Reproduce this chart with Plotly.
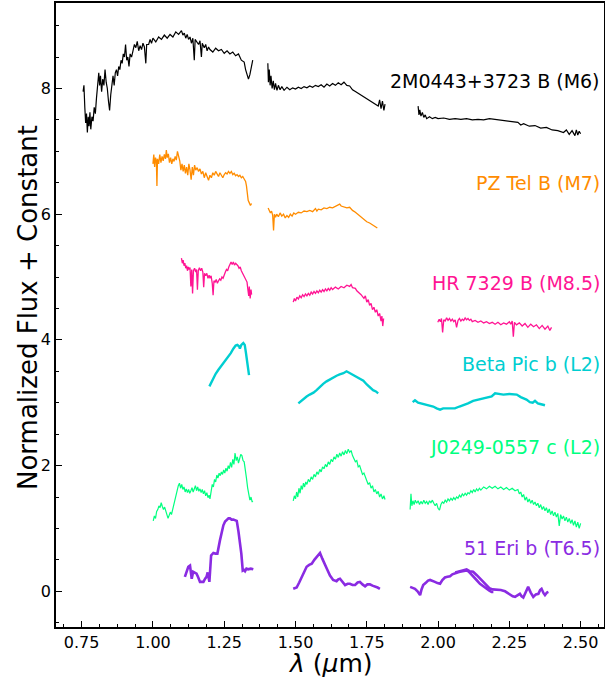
import plotly.graph_objects as go

# ---------------- data (wavelength in micron, normalized flux + offset) ----------------
# 2M0443+3723 B (M6)
m6_a_wl = [0.755,0.758,0.761,0.764,0.767,0.770,0.773,0.776,0.779,0.782,0.786,0.790,0.794,0.798,0.802,0.806,0.810,0.813,0.816,0.820,0.824,0.828,0.832,0.836,0.840,0.844,0.848,0.852,0.856,0.860,0.864,0.868,0.872,0.876,0.880,0.884,0.888,0.892,0.896,0.900,0.904,0.908,0.912,0.916,0.920,0.925,0.930,0.935,0.940,0.945,0.950,0.955,0.960,0.965,0.970,0.975,0.978,0.985,0.990,0.995,1.000,1.010,1.020,1.030,1.040,1.050,1.060,1.070,1.080,1.090,1.100,1.105,1.110,1.115,1.120,1.125,1.130,1.135,1.140,1.145,1.148,1.155,1.160,1.165,1.170,1.173,1.180,1.185,1.190,1.195,1.200,1.210,1.220,1.230,1.240,1.250,1.260,1.270,1.280,1.290,1.300,1.310,1.320,1.325,1.330,1.335,1.340,1.345,1.350]
m6_a_fx = [7.95,8.05,7.70,7.45,7.60,7.30,7.55,7.40,7.62,7.35,7.55,7.48,7.70,7.60,7.85,8.10,8.25,8.05,8.20,7.95,8.15,8.05,8.30,8.10,8.00,7.80,7.65,7.90,8.10,8.20,8.05,8.25,8.30,8.20,8.35,8.30,8.45,8.40,8.55,8.50,8.70,8.45,8.50,8.35,8.55,8.50,8.60,8.70,8.65,8.75,8.60,8.68,8.62,8.72,8.66,8.40,8.70,8.70,8.78,8.72,8.80,8.74,8.82,8.78,8.85,8.80,8.86,8.82,8.90,8.86,8.92,8.85,8.88,8.80,8.86,8.78,8.82,8.72,8.80,8.45,8.78,8.74,8.70,8.76,8.50,8.72,8.65,8.70,8.60,8.66,8.62,8.58,8.64,8.60,8.62,8.56,8.60,8.55,8.58,8.52,8.55,8.45,8.42,8.30,8.22,8.15,8.22,8.35,8.45]
m6_b_wl = [1.403,1.405,1.408,1.411,1.414,1.418,1.422,1.426,1.430,1.435,1.440,1.446,1.452,1.460,1.470,1.480,1.490,1.500,1.510,1.520,1.530,1.540,1.550,1.560,1.570,1.580,1.590,1.600,1.610,1.620,1.630,1.640,1.650,1.660,1.670,1.680,1.690,1.700,1.710,1.720,1.730,1.740,1.750,1.760,1.770,1.780,1.790,1.795,1.800,1.805,1.810,1.814]
m6_b_fx = [8.40,8.10,8.30,8.05,8.20,8.00,8.12,7.98,8.08,7.97,8.05,7.98,8.03,7.97,8.02,7.98,8.01,7.99,8.02,8.00,8.03,8.01,8.04,8.02,8.05,8.03,8.06,8.02,8.07,8.04,8.08,8.05,8.09,8.06,8.10,8.05,8.04,7.98,7.95,7.92,7.90,7.86,7.84,7.80,7.78,7.75,7.72,7.82,7.68,7.80,7.65,7.75]
m6_c_wl = [1.930,1.933,1.936,1.940,1.945,1.950,1.955,1.960,1.970,1.980,1.990,2.000,2.020,2.040,2.060,2.080,2.100,2.120,2.140,2.160,2.180,2.200,2.220,2.240,2.260,2.280,2.290,2.300,2.320,2.340,2.360,2.380,2.400,2.420,2.440,2.450,2.460,2.470,2.480,2.485,2.490,2.495,2.500]
m6_c_fx = [7.72,7.58,7.66,7.56,7.62,7.54,7.58,7.52,7.55,7.52,7.54,7.52,7.53,7.51,7.52,7.51,7.52,7.50,7.51,7.50,7.52,7.51,7.50,7.48,7.47,7.46,7.42,7.44,7.40,7.41,7.37,7.38,7.34,7.33,7.30,7.34,7.27,7.33,7.25,7.34,7.26,7.32,7.28]

# PZ Tel B (M7)
pz_a_wl = [1.000,1.003,1.006,1.009,1.012,1.014,1.016,1.020,1.024,1.028,1.032,1.036,1.040,1.044,1.047,1.050,1.054,1.058,1.062,1.066,1.070,1.074,1.078,1.082,1.086,1.090,1.094,1.098,1.102,1.106,1.110,1.114,1.118,1.122,1.126,1.130,1.134,1.138,1.142,1.146,1.150,1.155,1.160,1.165,1.170,1.175,1.180,1.185,1.190,1.195,1.200,1.205,1.210,1.215,1.220,1.225,1.230,1.235,1.240,1.245,1.250,1.255,1.260,1.265,1.270,1.275,1.280,1.285,1.290,1.295,1.300,1.305,1.310,1.315,1.320,1.325,1.328,1.331,1.334,1.338,1.342,1.346]
pz_a_fx = [6.80,6.95,6.75,6.90,6.85,6.45,6.88,6.80,6.95,6.82,6.92,6.85,6.95,6.88,7.02,6.90,6.96,6.82,6.90,6.80,6.88,6.84,6.92,6.86,7.00,6.92,6.85,6.70,6.80,6.68,6.78,6.65,6.75,6.62,6.80,6.70,6.55,6.75,6.62,6.78,6.70,6.74,6.68,6.72,6.64,6.68,6.58,6.66,6.60,6.54,6.62,6.58,6.66,6.62,6.68,6.64,6.60,6.66,6.62,6.58,6.63,6.66,6.64,6.68,6.65,6.68,6.63,6.65,6.61,6.63,6.60,6.62,6.58,6.60,6.56,6.52,6.45,6.32,6.22,6.18,6.14,6.17]
pz_b_wl = [1.404,1.408,1.412,1.416,1.420,1.423,1.426,1.430,1.434,1.440,1.446,1.452,1.458,1.464,1.470,1.476,1.482,1.488,1.494,1.500,1.510,1.520,1.530,1.540,1.550,1.560,1.570,1.575,1.580,1.590,1.600,1.610,1.620,1.630,1.640,1.650,1.655,1.660,1.670,1.680,1.690,1.700,1.710,1.720,1.730,1.740,1.750,1.760,1.770,1.780,1.787]
pz_b_fx = [6.10,6.07,6.02,6.05,5.98,5.74,6.00,5.95,6.00,5.96,6.02,5.97,6.00,5.94,5.98,5.95,6.00,5.97,6.02,6.00,6.03,6.02,6.05,6.04,6.06,6.04,6.09,6.05,6.08,6.07,6.10,6.09,6.11,6.10,6.12,6.14,6.16,6.13,6.12,6.10,6.11,6.06,6.03,5.99,5.95,5.92,5.88,5.86,5.83,5.80,5.78]

# HR 7329 B (M8.5)
hr_a_wl = [1.100,1.103,1.106,1.109,1.112,1.115,1.118,1.121,1.124,1.127,1.130,1.133,1.136,1.139,1.142,1.146,1.150,1.153,1.156,1.159,1.163,1.167,1.171,1.175,1.178,1.181,1.185,1.189,1.193,1.197,1.200,1.204,1.208,1.211,1.214,1.218,1.222,1.226,1.230,1.234,1.238,1.242,1.246,1.250,1.254,1.258,1.262,1.266,1.270,1.274,1.278,1.282,1.286,1.290,1.294,1.298,1.302,1.306,1.310,1.314,1.318,1.322,1.326,1.330,1.333,1.336,1.338,1.341,1.344,1.346]
hr_a_fx = [5.30,5.22,5.27,5.18,5.22,5.14,5.18,5.10,5.16,5.12,5.15,4.85,5.12,4.74,5.10,5.14,5.08,5.12,4.80,5.10,5.15,5.10,5.14,5.08,4.84,5.06,5.02,5.06,4.98,5.03,4.98,5.02,4.90,4.71,4.94,4.92,4.96,4.90,4.94,4.97,4.95,5.00,4.98,5.05,5.08,5.12,5.10,5.16,5.20,5.24,5.20,5.24,5.19,5.22,5.20,5.18,5.14,5.16,5.10,5.06,5.02,5.00,4.96,4.92,4.80,4.70,4.85,4.66,4.80,4.72]
hr_b_wl = [1.492,1.496,1.500,1.505,1.510,1.515,1.520,1.525,1.530,1.535,1.540,1.545,1.550,1.555,1.560,1.565,1.570,1.575,1.580,1.585,1.590,1.595,1.600,1.605,1.610,1.615,1.620,1.625,1.630,1.640,1.650,1.660,1.670,1.680,1.690,1.695,1.700,1.710,1.715,1.720,1.730,1.740,1.745,1.750,1.755,1.760,1.765,1.770,1.775,1.780,1.785,1.790,1.795,1.800,1.803,1.806,1.809]
hr_b_fx = [4.60,4.66,4.62,4.68,4.65,4.70,4.67,4.72,4.69,4.73,4.70,4.74,4.71,4.76,4.73,4.77,4.74,4.78,4.75,4.79,4.76,4.80,4.77,4.81,4.78,4.82,4.79,4.83,4.80,4.84,4.81,4.85,4.83,4.87,4.85,4.88,4.83,4.82,4.78,4.76,4.72,4.66,4.70,4.60,4.64,4.55,4.58,4.48,4.52,4.44,4.48,4.38,4.42,4.30,4.38,4.22,4.34]
hr_c_wl = [1.999,2.004,2.008,2.012,2.016,2.020,2.025,2.030,2.035,2.040,2.045,2.050,2.055,2.060,2.065,2.070,2.075,2.080,2.085,2.090,2.095,2.100,2.105,2.110,2.115,2.120,2.130,2.140,2.150,2.160,2.170,2.180,2.190,2.200,2.210,2.220,2.230,2.240,2.250,2.255,2.260,2.264,2.268,2.275,2.285,2.295,2.305,2.315,2.325,2.335,2.345,2.355,2.365,2.375,2.385,2.392,2.398]
hr_c_fx = [4.28,4.33,4.29,4.34,4.12,4.32,4.30,4.35,4.31,4.34,4.30,4.33,4.29,4.32,4.20,4.31,4.34,4.30,4.33,4.31,4.35,4.32,4.34,4.31,4.33,4.29,4.31,4.28,4.30,4.27,4.29,4.26,4.28,4.25,4.28,4.24,4.27,4.25,4.29,4.25,4.30,4.05,4.28,4.24,4.27,4.22,4.26,4.20,4.25,4.21,4.24,4.18,4.23,4.17,4.22,4.15,4.20]

# Beta Pic b (L2)
bp_a_wl = [1.198,1.205,1.212,1.220,1.229,1.237,1.247,1.255,1.264,1.273,1.282,1.290,1.296,1.302,1.305,1.310,1.317,1.322,1.326,1.330,1.334,1.337]
bp_a_fx = [3.26,3.33,3.39,3.46,3.52,3.57,3.62,3.67,3.73,3.79,3.86,3.91,3.92,3.90,3.86,3.92,3.95,3.92,3.80,3.65,3.52,3.44]
bp_b_wl = [1.510,1.520,1.530,1.539,1.550,1.563,1.574,1.585,1.597,1.609,1.620,1.632,1.644,1.655,1.668,1.679,1.690,1.700,1.715,1.727,1.738,1.750,1.761,1.772,1.782,1.790]
bp_b_fx = [2.99,3.03,3.07,3.10,3.13,3.16,3.20,3.25,3.30,3.34,3.37,3.40,3.43,3.45,3.47,3.50,3.47,3.45,3.41,3.38,3.35,3.29,3.24,3.20,3.18,3.15]
bp_c_wl = [1.911,1.919,1.930,1.948,1.965,1.983,1.995,2.007,2.018,2.030,2.045,2.059,2.075,2.088,2.105,2.123,2.140,2.159,2.175,2.188,2.200,2.215,2.229,2.250,2.276,2.290,2.299,2.310,2.322,2.332,2.340,2.350,2.358,2.368,2.375]
bp_c_fx = [3.01,3.04,3.00,2.98,2.96,2.94,2.91,2.89,2.91,2.91,2.90,2.91,2.94,2.96,2.99,3.03,3.05,3.07,3.09,3.10,3.15,3.14,3.13,3.14,3.13,3.09,3.07,3.05,3.01,3.00,3.03,2.99,2.98,2.97,2.96]

# J0249-0557 c (L2)
jc_a_wl = [1.001,1.005,1.009,1.013,1.017,1.021,1.025,1.029,1.033,1.037,1.041,1.045,1.049,1.053,1.057,1.061,1.065,1.069,1.073,1.077,1.081,1.085,1.089,1.093,1.097,1.101,1.105,1.109,1.113,1.117,1.121,1.125,1.129,1.133,1.137,1.141,1.145,1.149,1.153,1.157,1.161,1.165,1.169,1.173,1.177,1.181,1.185,1.189,1.193,1.197,1.200,1.204,1.208,1.212,1.216,1.220,1.224,1.228,1.232,1.236,1.240,1.244,1.248,1.252,1.256,1.260,1.264,1.268,1.272,1.276,1.280,1.284,1.288,1.292,1.296,1.300,1.304,1.308,1.312,1.316,1.320,1.324,1.328,1.332,1.336,1.340,1.344,1.348,1.350]
jc_a_fx = [1.12,1.20,1.16,1.27,1.30,1.36,1.33,1.41,1.35,1.30,1.34,1.25,1.22,1.16,1.20,1.26,1.22,1.30,1.35,1.45,1.52,1.60,1.68,1.72,1.64,1.70,1.62,1.66,1.58,1.63,1.57,1.62,1.56,1.60,1.65,1.58,1.63,1.68,1.60,1.66,1.59,1.63,1.57,1.62,1.55,1.60,1.52,1.57,1.49,1.53,1.47,1.62,1.70,1.66,1.78,1.74,1.85,1.80,1.88,1.84,1.90,1.86,1.93,1.88,1.96,1.91,2.00,1.95,2.05,1.97,2.10,2.02,2.20,2.08,2.14,2.04,2.12,2.18,2.16,2.08,2.06,1.95,1.80,1.65,1.55,1.45,1.50,1.42,1.44]
jc_b_wl = [1.492,1.496,1.500,1.504,1.508,1.512,1.516,1.520,1.524,1.528,1.532,1.536,1.540,1.545,1.550,1.555,1.560,1.565,1.570,1.575,1.580,1.585,1.590,1.595,1.600,1.605,1.610,1.615,1.620,1.625,1.630,1.635,1.640,1.645,1.650,1.655,1.660,1.665,1.670,1.675,1.680,1.685,1.690,1.695,1.700,1.705,1.710,1.715,1.720,1.725,1.730,1.735,1.740,1.745,1.750,1.755,1.760,1.765,1.770,1.775,1.780,1.785,1.790,1.795,1.800,1.805,1.810,1.814]
jc_b_fx = [1.44,1.52,1.47,1.58,1.50,1.64,1.56,1.68,1.62,1.72,1.66,1.74,1.70,1.78,1.74,1.82,1.78,1.86,1.82,1.90,1.86,1.94,1.90,1.98,1.95,2.02,1.98,2.06,2.02,2.10,2.06,2.14,2.10,2.18,2.13,2.20,2.15,2.22,2.17,2.24,2.19,2.26,2.21,2.24,2.16,2.12,2.06,2.08,1.98,2.00,1.92,1.86,1.88,1.80,1.76,1.70,1.73,1.64,1.68,1.58,1.62,1.55,1.59,1.50,1.55,1.47,1.52,1.46]
jc_c_wl = [1.902,1.905,1.908,1.912,1.916,1.920,1.925,1.930,1.935,1.940,1.945,1.950,1.955,1.960,1.965,1.970,1.975,1.980,1.985,1.990,1.995,2.000,2.005,2.010,2.015,2.020,2.025,2.030,2.035,2.040,2.045,2.050,2.055,2.060,2.065,2.070,2.075,2.080,2.085,2.090,2.095,2.100,2.105,2.110,2.115,2.120,2.125,2.130,2.135,2.140,2.145,2.150,2.160,2.170,2.180,2.190,2.200,2.210,2.220,2.230,2.240,2.250,2.260,2.270,2.280,2.285,2.290,2.295,2.300,2.305,2.310,2.315,2.320,2.325,2.330,2.335,2.340,2.345,2.350,2.355,2.360,2.365,2.370,2.375,2.380,2.385,2.390,2.395,2.400,2.405,2.410,2.415,2.420,2.425,2.430,2.435,2.440,2.445,2.450,2.455,2.460,2.465,2.470,2.475,2.480,2.485,2.490,2.495,2.500]
jc_c_fx = [1.30,1.55,1.36,1.44,1.38,1.45,1.40,1.44,1.38,1.43,1.39,1.45,1.40,1.43,1.38,1.44,1.41,1.45,1.40,1.36,1.40,1.32,1.29,1.38,1.42,1.40,1.45,1.42,1.47,1.44,1.48,1.45,1.49,1.46,1.50,1.48,1.53,1.50,1.55,1.52,1.56,1.53,1.57,1.55,1.60,1.57,1.62,1.58,1.63,1.60,1.64,1.61,1.66,1.63,1.67,1.64,1.67,1.63,1.66,1.62,1.65,1.61,1.64,1.60,1.62,1.55,1.58,1.50,1.54,1.45,1.50,1.42,1.47,1.40,1.45,1.38,1.42,1.36,1.40,1.33,1.38,1.30,1.35,1.28,1.33,1.25,1.31,1.22,1.28,1.20,1.26,1.18,1.24,1.04,1.22,1.15,1.20,1.12,1.18,1.10,1.16,1.08,1.14,1.05,1.12,1.02,1.10,1.00,1.08]

# 51 Eri b (T6.5)
eri_a_wl = [1.112,1.124,1.130,1.136,1.141,1.147,1.153,1.159,1.165,1.171,1.177,1.183,1.188,1.192,1.195,1.198,1.204,1.212,1.219,1.226,1.235,1.241,1.247,1.253,1.259,1.265,1.270,1.276,1.282,1.288,1.294,1.300,1.305,1.310,1.315,1.319,1.323,1.328,1.334,1.343,1.352]
eri_a_fx = [0.23,0.39,0.41,0.20,0.31,0.29,0.28,0.22,0.15,0.15,0.15,0.20,0.23,0.30,0.22,0.15,0.57,0.61,0.60,0.60,0.81,0.94,1.05,1.11,1.14,1.16,1.16,1.14,1.14,1.13,1.12,0.95,0.81,0.60,0.33,0.34,0.32,0.36,0.35,0.36,0.35]
eri_b_wl = [1.492,1.504,1.513,1.522,1.530,1.539,1.548,1.557,1.566,1.574,1.580,1.586,1.594,1.603,1.612,1.621,1.632,1.644,1.650,1.656,1.665,1.674,1.683,1.691,1.700,1.709,1.718,1.726,1.735,1.744,1.752,1.761,1.770,1.779,1.788,1.796]
eri_b_fx = [0.04,0.06,0.14,0.23,0.32,0.39,0.42,0.44,0.50,0.55,0.59,0.61,0.52,0.44,0.34,0.25,0.18,0.16,0.19,0.20,0.14,0.10,0.12,0.12,0.10,0.10,0.14,0.15,0.11,0.08,0.11,0.11,0.09,0.08,0.06,0.04]
eri_c_wl = [1.902,1.910,1.919,1.928,1.937,1.942,1.948,1.958,1.965,1.972,1.980,1.989,1.998,2.007,2.015,2.024,2.033,2.042,2.050,2.059,2.068,2.077,2.086,2.094,2.100,2.106,2.115,2.123,2.135,2.147,2.158,2.170,2.180,2.188,2.194]
eri_c_fx = [0.07,0.05,0.04,0.00,-0.06,0.03,0.10,0.14,0.17,0.18,0.16,0.15,0.13,0.12,0.18,0.22,0.23,0.24,0.27,0.29,0.30,0.31,0.32,0.33,0.33,0.32,0.28,0.24,0.18,0.12,0.08,0.04,0.01,-0.01,-0.01]
eri_d_wl = [2.060,2.075,2.090,2.100,2.110,2.123,2.135,2.147,2.158,2.170,2.180,2.191,2.206,2.220,2.235,2.245,2.252,2.262,2.270,2.280,2.287,2.293,2.299,2.307,2.316,2.325,2.334,2.343,2.352,2.358,2.363,2.370,2.375,2.382,2.387]
eri_d_fx = [0.30,0.32,0.34,0.35,0.32,0.31,0.26,0.20,0.16,0.10,0.05,0.03,0.03,0.02,0.00,-0.03,-0.06,-0.08,-0.09,-0.06,-0.04,-0.08,-0.10,-0.02,0.07,-0.02,-0.09,-0.05,-0.04,0.02,0.04,-0.03,-0.06,-0.02,-0.01]

# labels
obj_names = ["2M0443+3723 B (M6)", "PZ Tel B (M7)", "HR 7329 B (M8.5)",
             "Beta Pic b (L2)", "J0249-0557 c (L2)", "51 Eri b (T6.5)"]
label_y = [8.12, 6.49, 4.91, 3.61, 2.29, 0.69]
label_x = 2.574
x_ticks = [0.75, 1.00, 1.25, 1.50, 1.75, 2.00, 2.25, 2.50]
x_ticklabels = ["0.75", "1.00", "1.25", "1.50", "1.75", "2.00", "2.25", "2.50"]
y_ticks = [0, 2, 4, 6, 8]
y_ticklabels = ["0", "2", "4", "6", "8"]

# ---------------- styles ----------------
colors = ["black", "#FF8C00", "#FF1493", "#00CED1", "#00FF7F", "#8A2BE2"]
widths = [1.2, 1.3, 1.3, 2.4, 1.2, 2.6]

segments = [
    [(m6_a_wl, m6_a_fx), (m6_b_wl, m6_b_fx), (m6_c_wl, m6_c_fx)],
    [(pz_a_wl, pz_a_fx), (pz_b_wl, pz_b_fx)],
    [(hr_a_wl, hr_a_fx), (hr_b_wl, hr_b_fx), (hr_c_wl, hr_c_fx)],
    [(bp_a_wl, bp_a_fx), (bp_b_wl, bp_b_fx), (bp_c_wl, bp_c_fx)],
    [(jc_a_wl, jc_a_fx), (jc_b_wl, jc_b_fx), (jc_c_wl, jc_c_fx)],
    [(eri_a_wl, eri_a_fx), (eri_b_wl, eri_b_fx), (eri_c_wl, eri_c_fx), (eri_d_wl, eri_d_fx)],
]

FONT = "DejaVu Sans"
fig = go.Figure()
for i, segs in enumerate(segments):
    for wl, fx in segs:
        fig.add_trace(go.Scatter(x=wl, y=fx, mode="lines",
                                 line=dict(color=colors[i], width=widths[i]),
                                 showlegend=False, hoverinfo="skip"))

for name, ly, c in zip(obj_names, label_y, colors):
    fig.add_annotation(x=label_x, y=ly, xref="x", yref="y", text=name,
                       showarrow=False, xanchor="right", yanchor="middle",
                       font=dict(family=FONT, size=19, color=c))

# axis titles as annotations
fig.add_annotation(x=-0.052, y=0.512, xref="paper", yref="paper",
                   text="Normalized Flux + Constant", textangle=-90,
                   showarrow=False, xanchor="center", yanchor="middle",
                   font=dict(family=FONT, size=26, color="black"))
fig.add_annotation(x=0.5, y=-0.058, xref="paper", yref="paper",
                   text="<i>λ</i> (<i>μ</i>m)",
                   showarrow=False, xanchor="center", yanchor="middle",
                   font=dict(family=FONT, size=25, color="black"))

axis_common = dict(showline=True, linecolor="black", linewidth=1.5, mirror=True,
                   ticks="inside", ticklen=6, tickwidth=1.2, tickcolor="black",
                   showgrid=False, zeroline=False,
                   tickfont=dict(family=FONT, size=16, color="black"))
fig.update_xaxes(range=[0.66, 2.582], tickvals=x_ticks, ticktext=x_ticklabels,
                 minor=dict(ticks="inside", ticklen=3, tickcolor="black", dtick=0.0625, tick0=0.75, showgrid=False),
                 **axis_common)
fig.update_yaxes(range=[-0.568, 9.36], tickvals=y_ticks, ticktext=y_ticklabels,
                 minor=dict(ticks="inside", ticklen=3, tickcolor="black", dtick=0.5, tick0=0, showgrid=False),
                 **axis_common)

fig.update_layout(width=605, height=679,
                  margin=dict(l=56, r=1, t=3, b=52, autoexpand=False),
                  plot_bgcolor="white", paper_bgcolor="white",
                  font=dict(family=FONT))

fig.write_html("out.html", config={"displayModeBar": False},
               post_script="document.body.style.margin='0px';document.body.style.overflow='hidden';")
